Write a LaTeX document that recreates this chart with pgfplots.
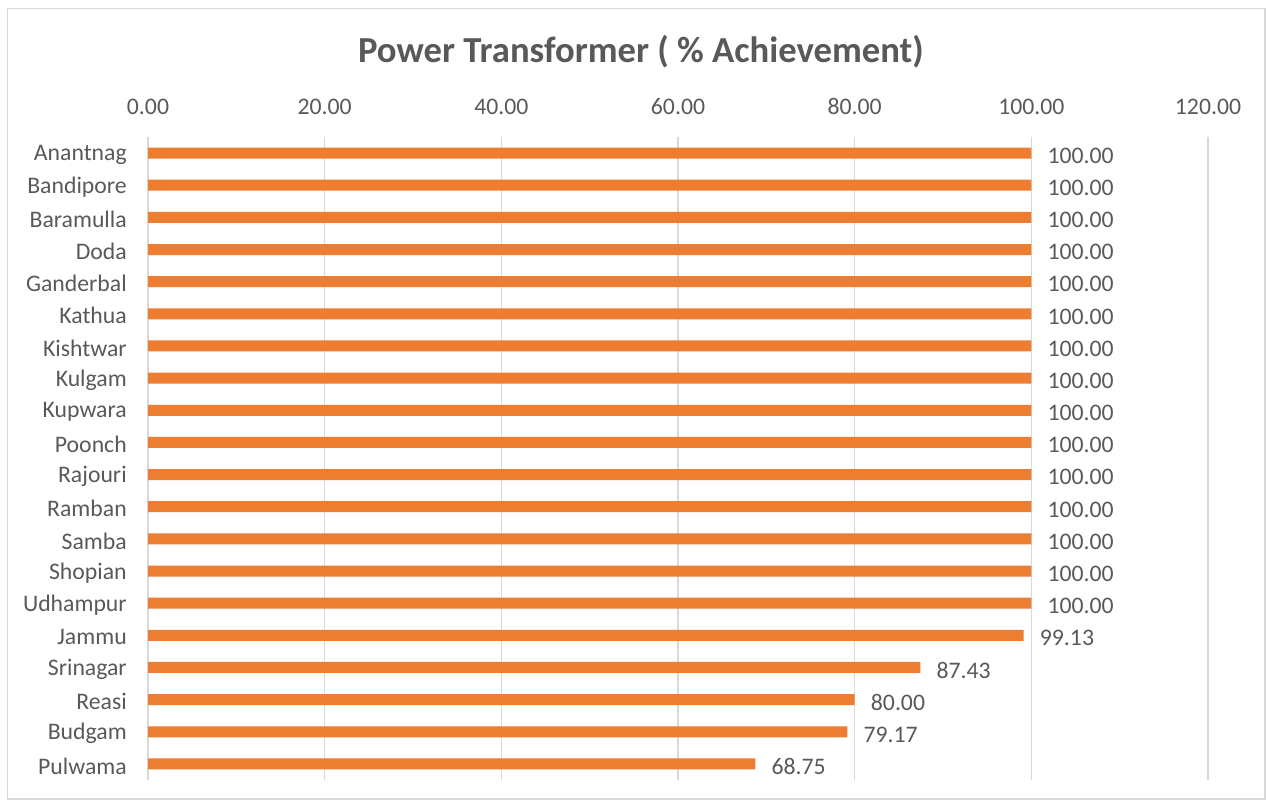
\documentclass[border=0pt]{standalone}
\usepackage{pgfplots}
\pgfplotsset{compat=1.18}
\usepackage{fontspec}
\setmainfont{Carlito}
\definecolor{barorange}{HTML}{ED7D31}
\definecolor{txtgray}{HTML}{595959}
\definecolor{gridgray}{HTML}{D9D9D9}
\begin{document}
\begin{tikzpicture}[x=1pt,y=1pt]
  \path[use as bounding box] (0,0) rectangle (949.5,600);
  \draw[gridgray, line width=1pt] (5.5,0.75) rectangle (948.75,593.5);
  \begin{axis}[
    at={(111pt,15pt)}, anchor=south west,
    scale only axis,
    width=795pt, height=482.25pt,
    xbar, bar width=8.25pt,
    xmin=0, xmax=120,
    xtick={0,20,...,120},
    ymin=-0.5, ymax=19.5,
    y dir=reverse,
    ytick={0,...,19},
    yticklabels={Anantnag,Bandipore,Baramulla,Doda,Ganderbal,Kathua,Kishtwar,Kulgam,Kupwara,Poonch,Rajouri,Ramban,Samba,Shopian,Udhampur,Jammu,Srinagar,Reasi,Budgam,Pulwama},
    axis line style={draw=none},
    xmajorgrids, grid style={gridgray, line width=1pt},
    major tick length=0pt,
    xticklabel pos=upper,
    xticklabel shift=16.5pt,
    yticklabel shift=15.75pt,
    tick label style={font=\fontsize{17.8}{20}\selectfont, text=txtgray, inner sep=0pt},
    yticklabel style={yshift=-1.5pt},
    /pgf/number format/assume math mode=true,
    xticklabel={\pgfmathprintnumber[fixed,zerofill,precision=2,assume math mode=true]{\tick}},
    nodes near coords,
    nodes near coords style={font=\fontsize{17.8}{20}\selectfont, text=txtgray, anchor=west, inner sep=0pt, xshift=12pt, yshift=-2pt,
      /pgf/number format/fixed, /pgf/number format/zerofill, /pgf/number format/precision=2},
  ]
  \addplot[fill=barorange, draw=none] coordinates {
    (100,0) (100,1) (100,2) (100,3) (100,4) (100,5) (100,6) (100,7) (100,8) (100,9)
    (100,10) (100,11) (100,12) (100,13) (100,14) (99.13,15) (87.43,16) (80.00,17) (79.17,18) (68.75,19)
  };
  \end{axis}
  \node[font=\fontsize{27.5}{32}\selectfont\bfseries, text=txtgray] at (480.75,561) {Power Transformer ( \% Achievement)};
\end{tikzpicture}
\end{document}
